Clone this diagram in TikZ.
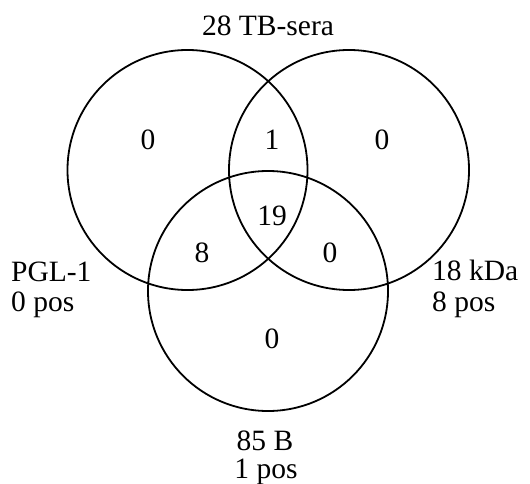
\documentclass[tikz,border=0pt]{standalone}
\usepackage{fontspec}
\setmainfont{Liberation Serif}
\begin{document}
\begin{tikzpicture}[x=1bp,y=-1bp,
  set/.style={draw, circle, line width=1.8bp, minimum size=240bp, inner sep=0pt},
  lbl/.style={inner sep=0pt, anchor=base, font=\fontsize{29.5bp}{32bp}\selectfont},
  lblw/.style={lbl, anchor=base west}]
  \useasboundingbox (0,0) rectangle (530,484);

  % the three sets
  \node[set] (pgl) at (187.5,170) {};
  \node[set] (kda) at (349,170) {};
  \node[set] (b85) at (268,291) {};

  % set captions
  \node[lbl] (tb) at (268,35.5) {28 TB-sera};
  \node[lblw] (pglname) at (11,281.5) {PGL-1};
  \node[lblw] (pglpos) at (11,311.5) {0 pos};
  \node[lblw] (kdaname) at (432,280) {18 kDa};
  \node[lblw] (kdapos) at (432,311) {8 pos};
  \node[lbl] (bname) at (265,450) {85 B};
  \node[lbl] (bpos) at (266,478) {1 pos};

  % region counts
  \node[lbl] (nl) at (148,150) {0};
  \node[lbl] (nlr) at (272,150) {1};
  \node[lbl] (nr) at (382,150) {0};
  \node[lbl] (nall) at (272,225) {19};
  \node[lbl] (nlb) at (202,262.5) {8};
  \node[lbl] (nrb) at (330,262.5) {0};
  \node[lbl] (nb) at (272,348) {0};
\end{tikzpicture}
\end{document}
